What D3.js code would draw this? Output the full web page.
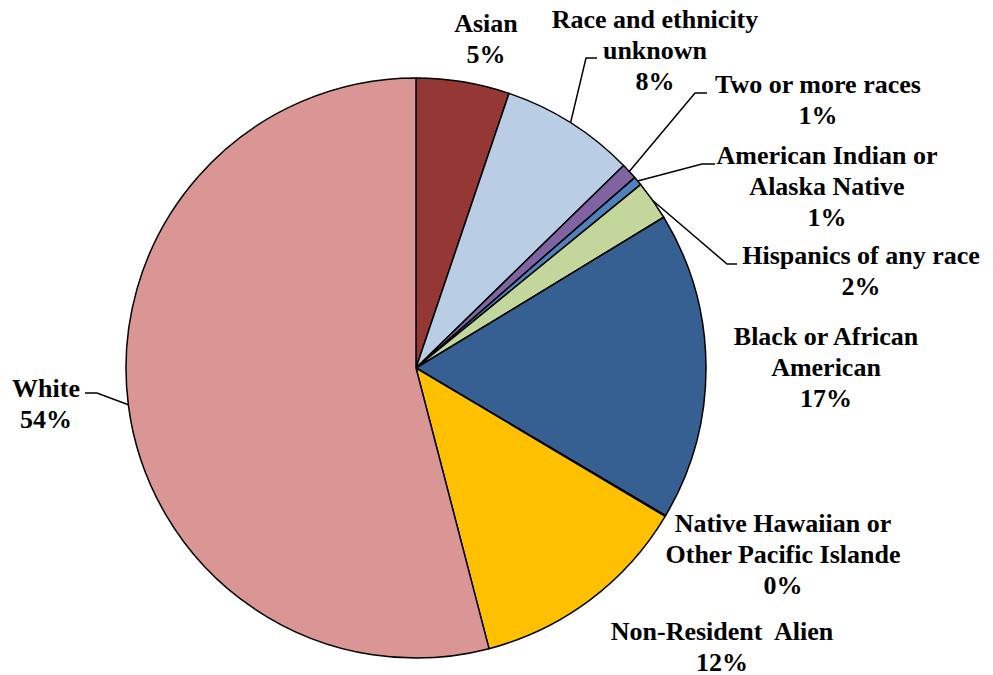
<!DOCTYPE html>
<html><head><meta charset="utf-8">
<script src="https://cdn.jsdelivr.net/npm/d3@7"></script>
<style>
body{margin:0;background:#fff;}
</style></head>
<body><svg id="c" width="993" height="675"></svg>
<script>
// ---- data ----
const categories = ["Asian","Race and ethnicity unknown","Two or more races","American Indian or Alaska Native","Hispanics of any race","Black or African American","Native Hawaiian or Other Pacific Islande","Non-Resident Alien","White"];
const values = [5.2, 7.5, 0.9, 0.5, 2.2, 17.2, 0.05, 12.4, 54.05];
const labelLines = [["Asian"],["Race and ethnicity","unknown"],["Two or more races"],["American Indian or","Alaska Native"],["Hispanics of any race"],["Black or African","American"],["Native Hawaiian or","Other Pacific Islande"],["Non-Resident\u00a0 Alien"],["White"]];
const colors = ["#953735","#B9CDE5","#8064A2","#4F81BD","#C3D69B","#376092","#4BACC6","#FFC000","#D99694"];

// ---- layout (positions, not data) ----
const cx = 416, cy = 368, R = 290;
const labelPos = [[486,32],[655,28],[818,93],[827,164],[861,264],[826,345],[783,532],[722,640],[46,397]];
const leaders = [null,[597,586,58],[707,695,93],[715,702,164],[737,727,264],null,null,null,[85,97,393]];
const lineH = 31;

const svg = d3.select("#c");
const g = svg.append("g").attr("transform",`translate(${cx},${cy})`);
const pie = d3.pie().sort(null).value(d=>d)(values);
const arc = d3.arc().innerRadius(0).outerRadius(R);

g.selectAll("path.slice").data(pie).join("path")
  .attr("class","slice")
  .attr("d",arc)
  .attr("fill",(d,i)=>colors[i])
  .attr("stroke","#000").attr("stroke-width",1.5).attr("stroke-linejoin","round");

pie.forEach((d,i)=>{
  const L = leaders[i]; if(!L) return;
  const a = (d.startAngle+d.endAngle)/2;
  const ex = cx + R*Math.sin(a), ey = cy - R*Math.cos(a);
  svg.append("polyline")
    .attr("points",`${ex},${ey} ${L[1]},${L[2]} ${L[0]},${L[2]}`)
    .attr("fill","none").attr("stroke","#000").attr("stroke-width",1.5);
});

// one text element per line (no tspans)
pie.forEach((d,i)=>{
  const [x,y] = labelPos[i];
  const lines = labelLines[i].concat([Math.round(values[i])+"%"]);
  lines.forEach((s,k)=>{
    svg.append("text").attr("x",x).attr("y",y+k*lineH)
      .style("text-anchor","middle")
      .style("font-family",'"Liberation Serif"')
      .style("font-weight","bold").style("font-size","26px")
      .text(s);
  });
});
</script></body></html>
